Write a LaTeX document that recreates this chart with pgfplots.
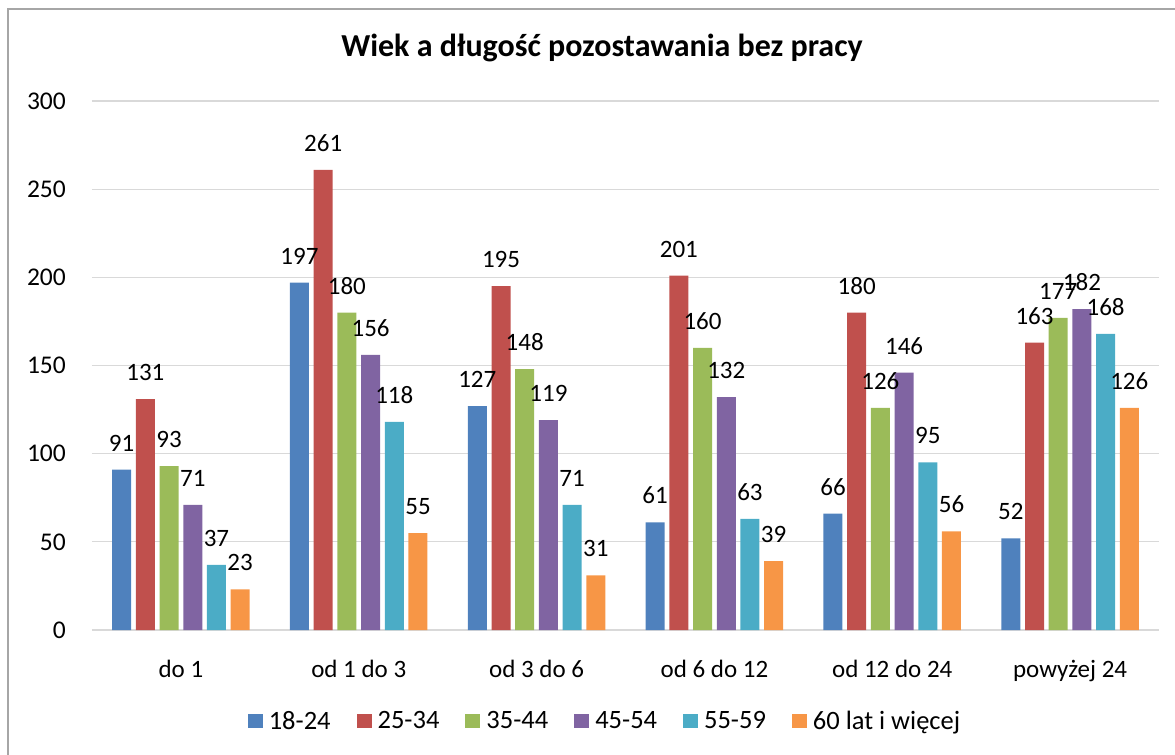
\documentclass[border=0pt]{standalone}
\usepackage{pgfplots}
\pgfplotsset{compat=1.18}
\usepackage{fontspec}
\setmainfont{Carlito}
\definecolor{c1}{HTML}{4F81BD}
\definecolor{c2}{HTML}{C0504D}
\definecolor{c3}{HTML}{9BBB59}
\definecolor{c4}{HTML}{8064A2}
\definecolor{c5}{HTML}{4BACC6}
\definecolor{c6}{HTML}{F79646}
\definecolor{gridc}{HTML}{D9D9D9}
\definecolor{framec}{HTML}{A6A6A6}
\begin{document}
\begin{tikzpicture}
\path[use as bounding box] (-92bp,-125bp) rectangle (1083bp,630bp);
\draw[framec, line width=2bp] (-83.5bp,-125bp) -- (-83.5bp,621bp) -- (1083bp,621bp);
\begin{axis}[
  at={(0,0)}, anchor=south west,
  scale only axis, width=1067bp, height=529bp,
  ybar=4.7bp, bar width=19bp,
  xmin=-0.5, xmax=5.5, ymin=0, ymax=300,
  xtick={0,1,2,3,4,5},
  xticklabels={do 1, od 1 do 3, od 3 do 6, od 6 do 12, od 12 do 24, powyżej 24},
  ytick={0,50,...,300},
  ymajorgrids, grid style={gridc, line width=1.3bp},
  axis line style={draw=none},
  tick style={draw=none},
  clip=false,
  font=\fontsize{25bp}{30bp}\selectfont,
  /pgf/number format/assume math mode=true,
  xticklabel style={anchor=base, inner sep=0pt, yshift=-43bp},
  yticklabel style={anchor=east, inner sep=0pt, xshift=-26bp, font=\fontsize{25.5bp}{30bp}\selectfont},
  nodes near coords,
  nodes near coords style={anchor=base, inner sep=0pt, yshift=18.5bp, black},
  legend columns=-1,
  legend image code/.code={\fill[#1] (0bp,-7bp) rectangle (15bp,7bp);},
  legend style={draw=none, fill=none, at={(512bp,-91bp)}, anchor=center,
    font=\fontsize{26.5bp}{31bp}\selectfont,
    nodes={inner sep=0pt},
    /tikz/every odd column/.append style={column sep=6bp},
    /tikz/every even column/.append style={column sep=26bp}},
]
\addplot[fill=c1, draw=none] coordinates {(0,91) (1,197) (2,127) (3,61) (4,66) (5,52)};
\addplot[fill=c2, draw=none] coordinates {(0,131) (1,261) (2,195) (3,201) (4,180) (5,163)};
\addplot[fill=c3, draw=none] coordinates {(0,93) (1,180) (2,148) (3,160) (4,126) (5,177)};
\addplot[fill=c4, draw=none] coordinates {(0,71) (1,156) (2,119) (3,132) (4,146) (5,182)};
\addplot[fill=c5, draw=none] coordinates {(0,37) (1,118) (2,71) (3,63) (4,95) (5,168)};
\addplot[fill=c6, draw=none] coordinates {(0,23) (1,55) (2,31) (3,39) (4,56) (5,126)};
\legend{18-24, 25-34, 35-44, 45-54, 55-59, 60 lat i więcej}
\end{axis}
\node[anchor=base, font=\fontsize{32bp}{37bp}\selectfont\bfseries] at (510bp,573bp) {Wiek a długość pozostawania bez pracy};
\end{tikzpicture}
\end{document}
